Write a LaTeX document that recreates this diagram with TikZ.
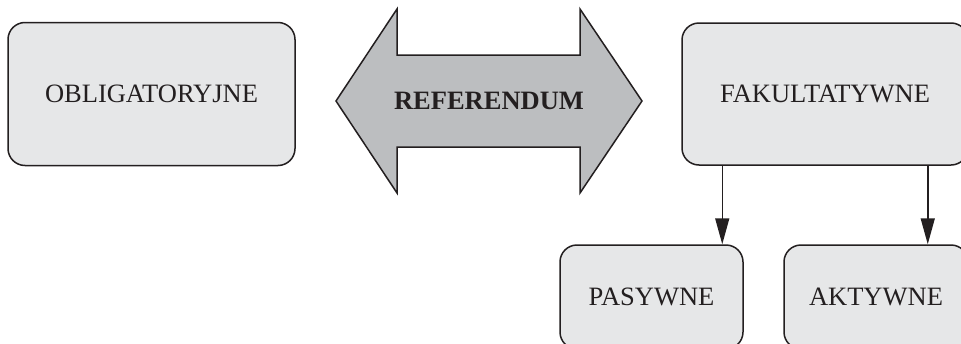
\documentclass[tikz,border=0pt]{standalone}
\usepackage{fontspec}
\setmainfont{Liberation Serif}
\usetikzlibrary{arrows.meta}
\definecolor{boxfill}{HTML}{E6E7E8}
\definecolor{arrfill}{HTML}{BCBEC0}
\definecolor{ink}{HTML}{231F20}
\begin{document}
\begin{tikzpicture}[x=1pt,y=-1pt,
  box/.style={draw=ink,fill=boxfill,line width=1.5pt,rounded corners=17pt,
    inner sep=0pt,font=\fontsize{26.5}{30}\selectfont,text=ink},
  conn/.style={draw=ink,line width=1.5pt,-{Triangle[width=14pt,length=26pt,fill=ink]}}]
\useasboundingbox (0,0) rectangle (961,343);
\clip (0,0) rectangle (961,343);
\fill[white] (0,0) rectangle (961,343);
\node[box,minimum width=287pt,minimum height=143pt] (obl) at (151.5,94) {OBLIGATORYJNE};
\node[box,minimum width=286pt,minimum height=142pt] (fak) at (825,94) {FAKULTATYWNE};
\node[box,minimum width=183pt,minimum height=104pt] (pas) at (651.5,297) {PASYWNE};
\node[box,minimum width=184pt,minimum height=104pt] (akt) at (876,297) {AKTYWNE};
\draw[draw=ink,fill=arrfill,line width=1.5pt,line join=miter]
  (336,101) -- (397,9) -- (397,55) -- (580,55) -- (580,9) -- (642,101)
  -- (580,193) -- (580,147) -- (397,147) -- (397,193) -- cycle;
\node[font=\fontsize{26.5}{30}\selectfont\bfseries,text=ink,inner sep=0pt] (ref) at (489,101) {REFERENDUM};
\draw[conn] ([xshift=41pt]fak.south west) -- ([xshift=41pt]fak.south west |- pas.north);
\draw[conn] ([xshift=-41pt]fak.south east) -- ([xshift=-41pt]fak.south east |- akt.north);
\end{tikzpicture}
\end{document}
